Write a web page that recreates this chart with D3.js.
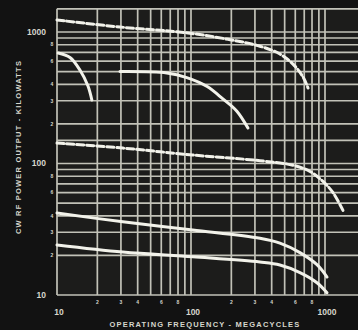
<!DOCTYPE html>
<html>
<head>
<meta charset="utf-8">
<script src="https://cdn.jsdelivr.net/npm/d3@7"></script>
<style>
  body { margin: 0; background: #121212; }
  svg { display: block; }
  text { font-family: "Liberation Sans", sans-serif; font-weight: bold; fill: #d6d6cc; }
</style>
</head>
<body>
<div id="chart"></div>
<script>
// frequency (Mc) / power (kW)
const topDashed = [[10, 1234], [29.5, 1091], [95, 983], [189, 880], [327, 780], [461, 680], [577, 570], [685, 455], [747, 375]];
const leftSolid = [[10.2, 692], [12.5, 640], [14.9, 510], [17, 390], [18.2, 304]];
const midSolid = [[29.5, 500], [66, 488], [93, 450], [132, 385], [173, 310], [220, 250], [266, 186]];
const midDashed = [[10, 143], [31, 131], [103, 116], [327, 105], [577, 97], [773, 87], [966, 73], [1148, 60], [1362, 44]];
const lowSolid1 = [[10, 42], [31, 36], [103, 31.2], [327, 27], [461, 24.8], [650, 21], [871, 17], [1035, 13.7]];
const lowSolid2 = [[10, 24], [31, 21.2], [103, 19.5], [327, 17.8], [461, 16.9], [650, 14.8], [871, 12.4], [1035, 10.4]];

const xGrid = [10, 20, 30, 40, 50, 60, 70, 80, 90, 100, 200, 300, 400, 500, 600, 700, 800, 900, 1000];
const yGrid = [10, 20, 30, 40, 50, 60, 70, 80, 90, 100, 150, 200, 300, 400, 500, 600, 700, 800, 900, 1000, 1500];
const majorTicks = [10, 100, 1000];
const minorTicks = [20, 30, 40, 60, 80, 200, 300, 400, 600, 800];

const W = 358, H = 330;
const svg = d3.select("#chart").append("svg")
  .attr("width", W).attr("height", H);

const x = d3.scaleLog().domain([10, 1000]).range([57, 325]);
const y = d3.scaleLog().domain([10, 1000]).range([295, 32]);

svg.append("rect").attr("width", W).attr("height", H).attr("fill", "#121212");
svg.append("rect")
  .attr("x", x(10)).attr("y", y(1500))
  .attr("width", W - x(10)).attr("height", y(10) - y(1500))
  .attr("fill", "#1c1c1b");

// grid
svg.append("g").selectAll("line")
  .data(yGrid)
  .join("line")
  .attr("x1", x(10)).attr("x2", W)
  .attr("y1", d => y(d)).attr("y2", d => y(d))
  .attr("stroke", "#c2c2b8")
  .attr("stroke-width", 1.7);

svg.append("g").selectAll("line")
  .data(xGrid)
  .join("line")
  .attr("x1", d => x(d)).attr("x2", d => x(d))
  .attr("y1", y(1500)).attr("y2", y(10))
  .attr("stroke", "#c2c2b8")
  .attr("stroke-width", 1.7);

// curves
const line = d3.line()
  .x(d => x(d[0]))
  .y(d => y(d[1]))
  .curve(d3.curveCatmullRom.alpha(0.5));

const curves = [
  { data: topDashed, dash: "7,3" },
  { data: leftSolid, dash: null },
  { data: midSolid, dash: null },
  { data: midDashed, dash: "7,3" },
  { data: lowSolid1, dash: null },
  { data: lowSolid2, dash: null }
];

svg.append("g").selectAll("path")
  .data(curves)
  .join("path")
  .attr("d", d => line(d.data))
  .attr("fill", "none")
  .attr("stroke", "#f2f2ea")
  .attr("stroke-width", 3)
  .attr("stroke-linecap", "round")
  .attr("stroke-dasharray", d => d.dash);

// tick labels
const fmtMinor = d => String(d).charAt(0);

svg.append("g").selectAll("text")
  .data(majorTicks)
  .join("text")
  .attr("x", 46)
  .attr("y", d => y(d))
  .attr("dy", "0.35em")
  .attr("text-anchor", "end")
  .attr("font-size", 8.5)
  .text(d => d);

svg.append("g").selectAll("text")
  .data(minorTicks)
  .join("text")
  .attr("x", 52)
  .attr("y", d => y(d))
  .attr("dy", "0.35em")
  .attr("text-anchor", "middle")
  .attr("font-size", 5)
  .text(fmtMinor);

svg.append("g").selectAll("text")
  .data(majorTicks)
  .join("text")
  .attr("x", d => x(d) + 2)
  .attr("y", 315)
  .attr("text-anchor", "middle")
  .attr("font-size", 8.5)
  .text(d => d);

svg.append("g").selectAll("text")
  .data(minorTicks)
  .join("text")
  .attr("x", d => x(d))
  .attr("y", 304)
  .attr("text-anchor", "middle")
  .attr("font-size", 5)
  .text(fmtMinor);

// axis titles
svg.append("text")
  .attr("x", 205)
  .attr("y", 327)
  .attr("text-anchor", "middle")
  .attr("font-size", 7.5)
  .attr("letter-spacing", 1.2)
  .text("OPERATING FREQUENCY - MEGACYCLES");

svg.append("text")
  .attr("transform", "translate(21,147) rotate(-90)")
  .attr("text-anchor", "middle")
  .attr("font-size", 7.5)
  .attr("letter-spacing", 1.2)
  .text("CW RF POWER OUTPUT - KILOWATTS");
</script>
</body>
</html>
